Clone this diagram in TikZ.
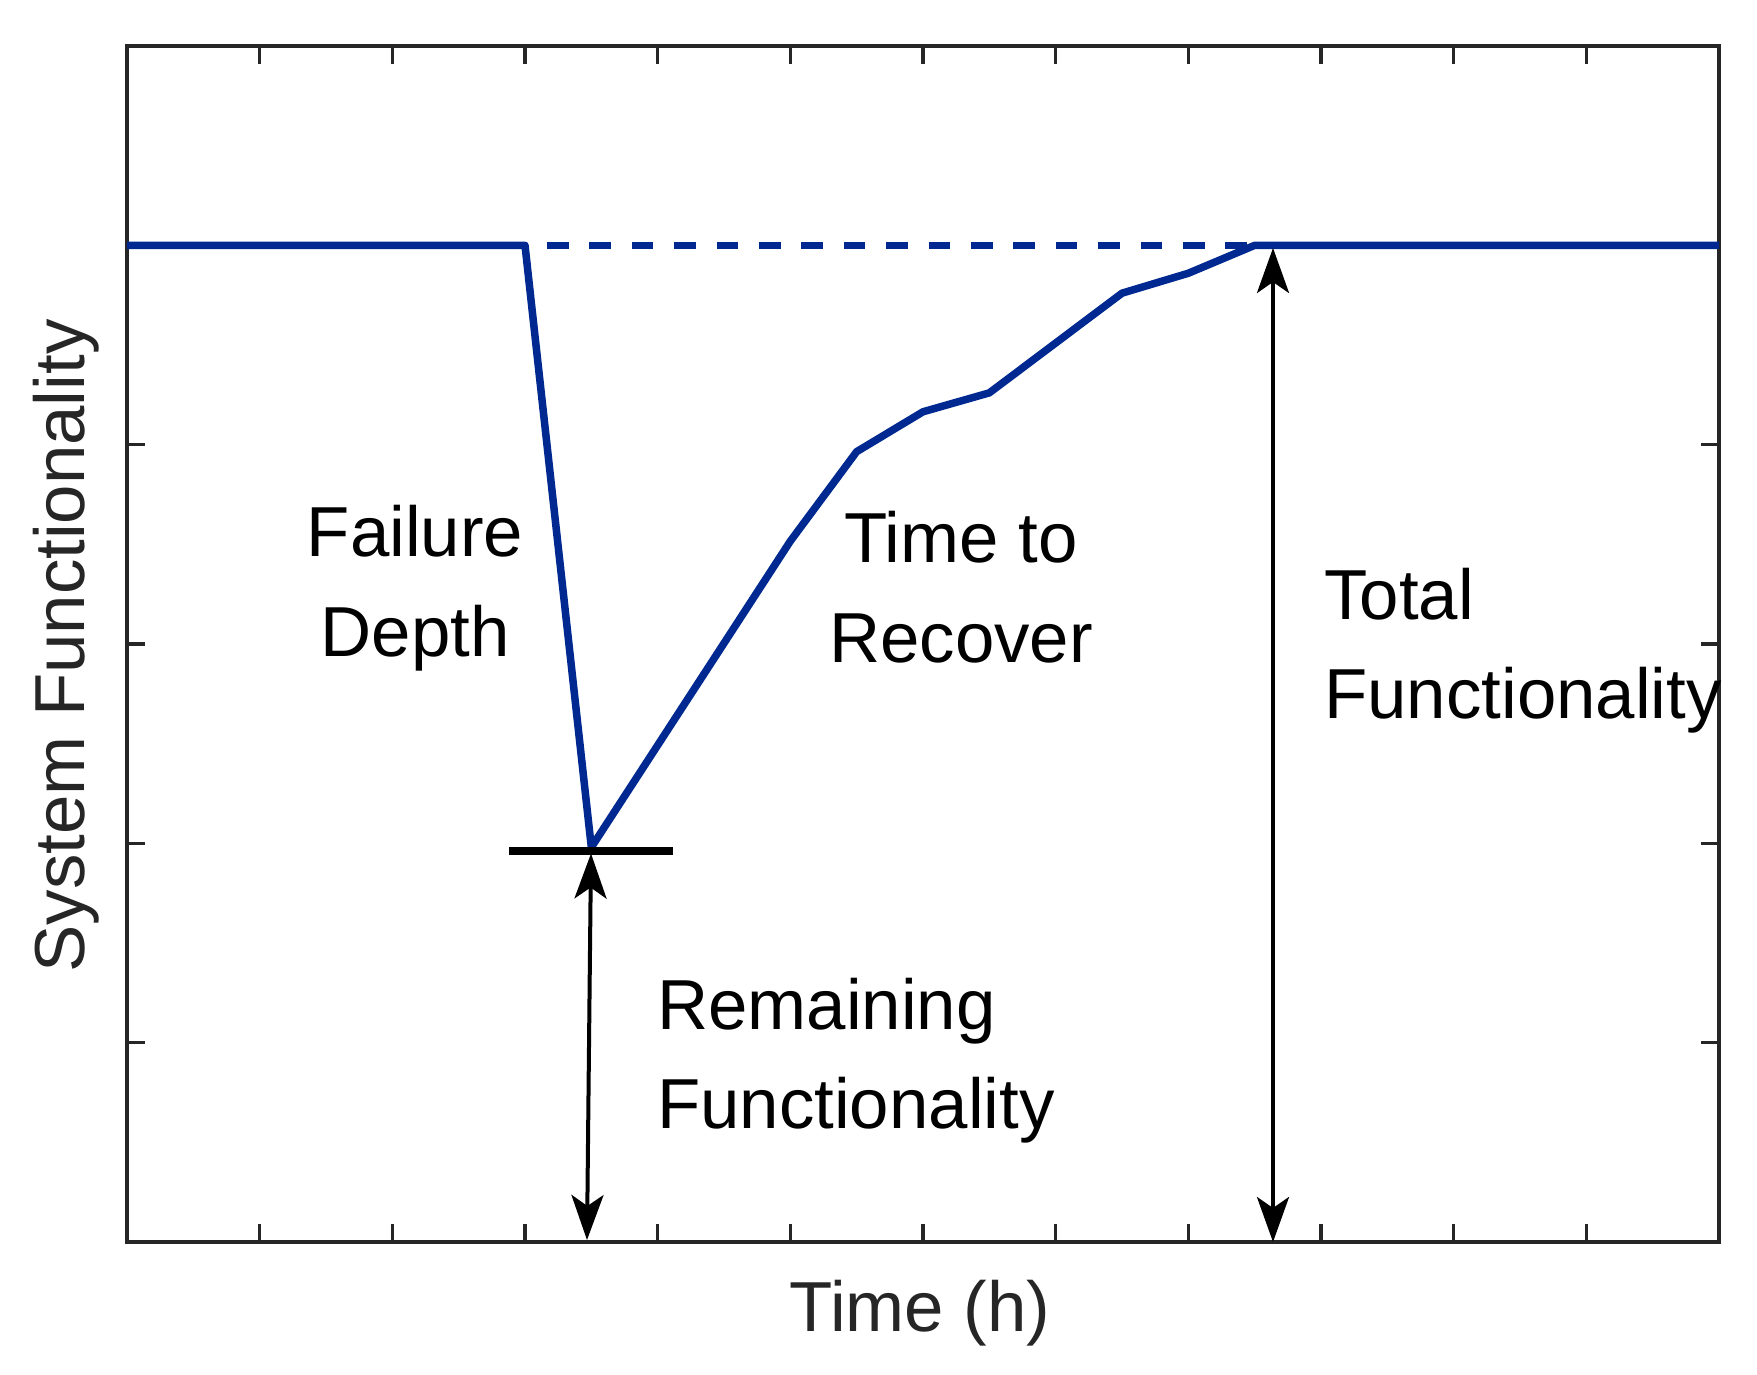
\documentclass[tikz,border=0pt]{standalone}
\usepackage{fontspec}
\setmainfont{Liberation Sans}
\usetikzlibrary{arrows.meta}
\definecolor{mblue}{RGB}{0,40,145}
\definecolor{axgray}{RGB}{38,38,38}
\begin{document}
\begin{tikzpicture}[x=1pt,y=-1pt,
  axisline/.style={draw=axgray,line width=3.3pt},
  tickmark/.style={draw=axgray,line width=3.3pt},
  curve/.style={draw=mblue,line width=7.5pt,line join=round},
  dashcurve/.style={draw=mblue,line width=7.5pt,dash pattern=on 21.5pt off 20.9pt},
  floorbar/.style={draw=black,line width=8pt},
  dimtip/.tip={Stealth[length=45pt,width=32pt,inset=11pt]},
  dimarrow/.style={draw=black,line width=4pt,dimtip-dimtip},
  lbl/.style={font=\fontsize{70.8}{100}\selectfont,inner sep=0pt,text=black},
  axlbl/.style={font=\fontsize{70.8}{100}\selectfont,inner sep=0pt,text=axgray}]
\useasboundingbox (0,0) rectangle (1757,1375);
\fill[white] (0,0) rectangle (1757,1375);

% axes box and ticks
\draw[axisline] (127,46) rectangle (1719,1242);
\foreach \k in {1,...,11}{
  \pgfmathsetmacro{\xx}{127+132.667*\k}
  \draw[tickmark] (\xx,1242) -- (\xx,1224);
  \draw[tickmark] (\xx,46) -- (\xx,64);
}
\foreach \k in {1,...,5}{
  \pgfmathsetmacro{\yy}{1242-199.333*\k}
  \draw[tickmark] (127,\yy) -- (145,\yy);
  \draw[tickmark] (1719,\yy) -- (1701,\yy);
}

% data
\begin{scope}[shift={(127,1242)},x=132.667pt,y=199.333pt]
  \draw[dashcurve] (3.1658,5) -- (8.5,5);
  \draw[curve] (0,5) -- (3,5) -- (3.5,1.98) -- (5,3.516) -- (5.5,3.965)
     -- (6,4.165) -- (6.5,4.26) -- (7.5,4.76) -- (8,4.86) -- (8.5,5) -- (12,5);
\end{scope}

% floor bar at minimum
\coordinate (barL) at (509,850.5);
\coordinate (barR) at (673,850.5);
\draw[floorbar] (barL) -- (barR);

% dimension arrows
\coordinate (remTop) at (591,853.5);
\coordinate (remBot) at (587,1240);
\draw[dimarrow] (remTop) -- (remBot);
\coordinate (totTop) at (1273,248);
\coordinate (totBot) at (1273,1242);
\draw[dimarrow] (totTop) -- (totBot);

% labels
\node[lbl,anchor=base] (fail1) at (415,556) {Failure};
\node[lbl,anchor=base] (fail2) at (415,656) {Depth};
\node[lbl,anchor=base] (ttr1) at (961,562) {Time to};
\node[lbl,anchor=base] (ttr2) at (961,662) {Recover};
\node[lbl,anchor=base west] (tot1) at (1324,619) {Total};
\node[lbl,anchor=base west] (tot2) at (1324,718.5) {Functionality};
\node[lbl,anchor=base west] (rem1) at (657,1029) {Remaining};
\node[lbl,anchor=base west] (rem2) at (657,1128) {Functionality};

% axis labels
\node[axlbl,anchor=base] (xlab) at (920,1331) {Time (h)};
\node[axlbl,anchor=base,rotate=90] (ylab) at (84,646) {System Functionality};
\end{tikzpicture}
\end{document}
